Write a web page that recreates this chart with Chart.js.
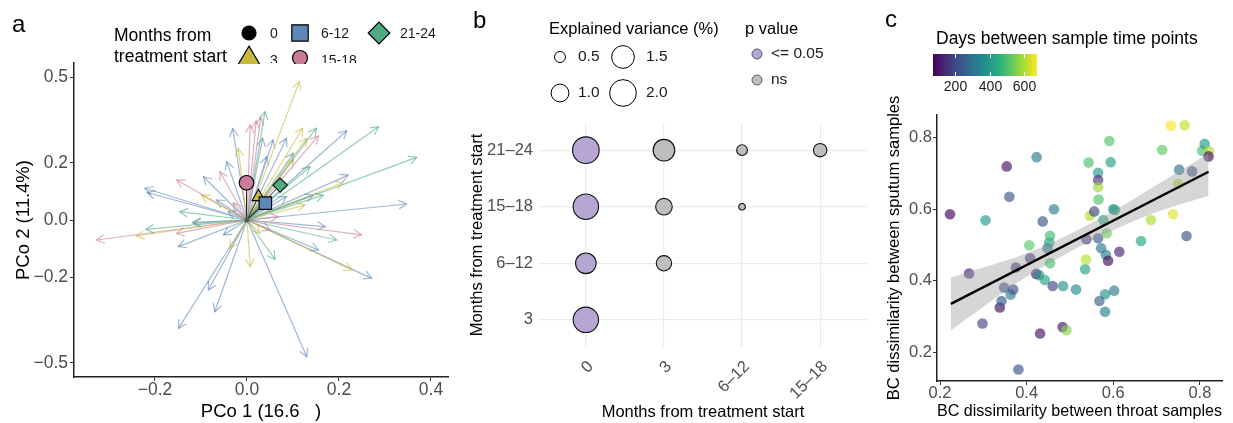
<html>
<head>
<script src="https://cdn.jsdelivr.net/npm/chart.js"></script>
<style>
  body { margin: 0; background: #fff; }
  .layer { position: absolute; left: 0; top: 0; }
</style>
</head>
<body>
<canvas id="pcoa" class="layer" width="1233" height="423"></canvas>
<canvas id="variance" class="layer" width="1233" height="423"></canvas>
<canvas id="dissim" class="layer" width="1233" height="423"></canvas>
<script>
// ---------- panel a : PCoA arrows ----------
const timeGroups = ['0', '3', '6-12', '15-18', '21-24'];
const centroidX = [0, 0.025, 0.040, -0.001, 0.072];
const centroidY = [0, 0.081, 0.059, 0.130, 0.122];

const arrowGroup = [
  '6-12','6-12','6-12','6-12','6-12','6-12','6-12','6-12','6-12','6-12','6-12','6-12','6-12','6-12',
  '6-12','6-12','6-12','6-12','6-12','6-12','6-12','6-12','6-12','6-12','6-12','6-12','6-12',
  '15-18','15-18','15-18','15-18','15-18','15-18','15-18','15-18','15-18','15-18','15-18','15-18',
  '3','3','3','3','3','3','3','3','3','3','3','3','3',
  '21-24','21-24','21-24','21-24','21-24','21-24','21-24','21-24','21-24','21-24','21-24'
];
const arrowX = [
  -0.031, 0.034, 0.086, 0.217, 0.347, 0.220, -0.222, -0.217, -0.095, -0.044, -0.149, 0.170, 0.155, 0.271,
  -0.149, -0.070, -0.084, 0.130, -0.051, 0.057, 0.043, 0.101, 0.086, 0.144, -0.066, -0.118, -0.041,
  -0.327, -0.153, -0.059, 0.007, 0.020, 0.030, 0.155, 0.249, -0.153, 0.068, 0.050, -0.030,
  0.114, 0.121, 0.130, -0.019, -0.099, 0.126, -0.241, 0.007, 0.228, 0.209, -0.037, 0.101, 0.028,
  0.039, 0.151, 0.286, 0.369, 0.137, 0.166, -0.146, -0.220, 0.195, 0.061, -0.117
];
const arrowY = [
  0.320, 0.286, 0.286, 0.312, 0.056, 0.157, 0.111, 0.096, 0.152, 0.204, -0.093, -0.023, -0.105, -0.204,
  -0.379, -0.321, -0.245, -0.478, -0.052, 0.280, 0.221, 0.233, 0.082, 0.087, 0.070, -0.008, 0.029,
  -0.070, 0.140, 0.169, 0.332, 0.347, 0.359, 0.294, -0.052, -0.047, 0.012, -0.035, 0.060,
  0.484, 0.321, 0.286, 0.251, 0.087, 0.052, -0.056, -0.163, -0.175, 0.131, -0.099, 0.210, -0.047,
  0.379, 0.321, 0.326, 0.219, 0.186, 0.087, 0.029, -0.033, -0.070, -0.138, -0.012
];
const pcoXTicks = [-0.2, 0, 0.2, 0.4];
const pcoYTicks = [-0.5, -0.2, 0, 0.2, 0.5];

// ---------- panel b : explained variance ----------
const refTimes = ['0', '3', '6\u201312', '15\u201318'];
const laterTimes = ['3', '6\u201312', '15\u201318', '21\u201324'];
const pairRef = ['0', '0', '0', '0', '3', '3', '3', '6\u201312', '6\u201312', '15\u201318'];
const pairLater = ['21\u201324', '15\u201318', '6\u201312', '3', '21\u201324', '15\u201318', '6\u201312', '21\u201324', '15\u201318', '21\u201324'];
const explainedVar = [1.99, 1.83, 1.27, 1.83, 1.38, 0.89, 0.79, 0.48, 0.30, 0.65];
const pSignif = [true, true, true, true, false, false, false, false, false, false];
const sizeBreaks = [0.5, 1.0, 1.5, 2.0];
const pLevels = ['<= 0.05', 'ns'];

// ---------- panel c : throat vs sputum dissimilarity ----------
const throatBC = [
  0.223, 0.267, 0.298, 0.305, 0.338, 0.342, 0.348, 0.354, 0.360, 0.363, 0.369, 0.381, 0.375, 0.408,
  0.406, 0.422, 0.423, 0.431, 0.429, 0.437, 0.442, 0.448, 0.452, 0.454, 0.454, 0.460, 0.463, 0.484,
  0.483, 0.492, 0.514, 0.535, 0.537, 0.538, 0.543, 0.546, 0.556, 0.565, 0.565, 0.565, 0.566, 0.565,
  0.572, 0.577, 0.585, 0.581, 0.581, 0.568, 0.583, 0.588, 0.591, 0.594, 0.600, 0.604, 0.602, 0.614,
  0.664, 0.687, 0.713, 0.733, 0.738, 0.750, 0.752, 0.765, 0.769, 0.782, 0.805, 0.811, 0.821, 0.820
];
const sputumBC = [
  0.586, 0.420, 0.280, 0.569, 0.325, 0.343, 0.381, 0.720, 0.635, 0.361, 0.375, 0.151, 0.437, 0.463,
  0.499, 0.419, 0.746, 0.252, 0.415, 0.566, 0.402, 0.491, 0.507, 0.526, 0.449, 0.385, 0.600, 0.385,
  0.270, 0.261, 0.375, 0.432, 0.459, 0.516, 0.731, 0.582, 0.594, 0.702, 0.682, 0.662, 0.627, 0.519,
  0.491, 0.570, 0.533, 0.313, 0.362, 0.343, 0.472, 0.456, 0.791, 0.732, 0.600, 0.598, 0.372, 0.481,
  0.511, 0.570, 0.766, 0.834, 0.586, 0.671, 0.711, 0.835, 0.525, 0.706, 0.764, 0.783, 0.764, 0.748
];
const daysBetween = [
  72, 130, 190, 400, 90, 250, 210, 100, 230, 320, 220, 220, 150, 170,
  520, 120, 320, 100, 380, 230, 430, 300, 420, 490, 500, 190, 320, 370,
  110, 560, 360, 420, 610, 150, 500, 610, 200, 400, 160, 590, 510, 240,
  310, 430, 540, 330, 380, 260, 320, 90, 510, 410, 340, 430, 320, 130,
  430, 600, 520, 675, 650, 600, 300, 620, 230, 220, 500, 400, 600, 90
];
const dayTicks = [200, 400, 600];
const fitX = [0.225, 0.82];
const fitY = [0.335, 0.705];
const bandX = [0.225, 0.3, 0.4, 0.5, 0.6, 0.7, 0.82];
const bandUpper = [0.409, 0.437, 0.477, 0.531, 0.595, 0.668, 0.757];
const bandLower = [0.261, 0.327, 0.411, 0.481, 0.541, 0.592, 0.638];
const bcTicks = [0.2, 0.4, 0.6, 0.8];

// ---------- shared helpers ----------
const FONT = '"Liberation Sans", Arial, Helvetica, sans-serif';
Chart.defaults.font.family = FONT;
Chart.defaults.color = '#4D4D4D';
Chart.defaults.animation = false;
Chart.defaults.events = [];
Chart.defaults.plugins.legend.display = false;
Chart.defaults.plugins.tooltip.enabled = false;

const groupStyle = {
  '0':     { color: '#555555', shape: 'circle',   r: 2.2 },
  '3':     { color: '#C9B93A', shape: 'triangle', r: 7.5 },
  '6-12':  { color: '#5E88B8', shape: 'rect',     r: 8.8 },
  '15-18': { color: '#C97C98', shape: 'circle',   r: 7.3 },
  '21-24': { color: '#4FAB82', shape: 'rectRot',  r: 7.2 }
};
const legendColor = { '0': '#000000' };

function fade(hex, a) {
  const n = parseInt(hex.slice(1), 16);
  return 'rgba(' + (n >> 16) + ',' + ((n >> 8) & 255) + ',' + (n & 255) + ',' + a + ')';
}

function text(ctx, str, x, y, size, opts) {
  opts = opts || {};
  ctx.save();
  ctx.font = size + 'px ' + FONT;
  ctx.fillStyle = opts.color || '#000';
  ctx.textAlign = opts.align || 'left';
  ctx.textBaseline = opts.baseline || 'middle';
  ctx.fillText(str, x, y);
  ctx.restore();
}

function shape(ctx, kind, x, y, s) {
  ctx.beginPath();
  if (kind === 'circle') {
    ctx.arc(x, y, s, 0, Math.PI * 2);
  } else if (kind === 'rect') {
    ctx.rect(x - s, y - s, 2 * s, 2 * s);
  } else if (kind === 'rectRot') {
    ctx.moveTo(x, y - s); ctx.lineTo(x + s, y); ctx.lineTo(x, y + s); ctx.lineTo(x - s, y); ctx.closePath();
  } else {
    ctx.moveTo(x, y - s * 0.95); ctx.lineTo(x + s, y + s * 0.75); ctx.lineTo(x - s, y + s * 0.75); ctx.closePath();
  }
  ctx.fill();
  ctx.stroke();
}

function signed(v) {
  return (v < -1e-9 ? '\u2212' : '') + Math.abs(v).toFixed(1);
}

function fixedTicks(values) {
  return function (scale) { scale.ticks = values.map(v => ({ value: v })); };
}

const VIRIDIS = ['#440154', '#472D7B', '#3B528B', '#2C728E', '#21908C', '#27AD81', '#5DC863', '#AADC32', '#FDE725'];
const dayMin = Math.min.apply(null, daysBetween);
const dayMax = Math.max.apply(null, daysBetween);
function viridis(t, a) {
  t = Math.max(0, Math.min(1, t));
  const p = t * (VIRIDIS.length - 1);
  const i = Math.min(Math.floor(p), VIRIDIS.length - 2);
  const f = p - i;
  const c0 = parseInt(VIRIDIS[i].slice(1), 16), c1 = parseInt(VIRIDIS[i + 1].slice(1), 16);
  const ch = s => Math.round(((c0 >> s) & 255) * (1 - f) + ((c1 >> s) & 255) * f);
  return 'rgba(' + ch(16) + ',' + ch(8) + ',' + ch(0) + ',' + a + ')';
}

// open arrow heads at the end of each segment of a dataset
const arrowHeads = {
  id: 'arrowHeads',
  afterDatasetDraw(chart, args) {
    const ds = chart.data.datasets[args.index];
    if (!ds.heads) return;
    const pts = args.meta.data;
    const ctx = chart.ctx;
    ctx.save();
    ctx.strokeStyle = ds.borderColor;
    ctx.lineWidth = ds.borderWidth;
    for (let k = 0; k + 1 < pts.length; k += 3) {
      const a = pts[k], b = pts[k + 1];
      const ang = Math.atan2(b.y - a.y, b.x - a.x);
      const L = ds.headLength;
      ctx.beginPath();
      ctx.moveTo(b.x - L * Math.cos(ang - 0.5), b.y - L * Math.sin(ang - 0.5));
      ctx.lineTo(b.x, b.y);
      ctx.lineTo(b.x - L * Math.cos(ang + 0.5), b.y - L * Math.sin(ang + 0.5));
      ctx.stroke();
    }
    ctx.restore();
  }
};

// ---------- panel a ----------
function arrowData(g) {
  const pts = [];
  arrowGroup.forEach((gg, i) => {
    if (gg !== g) return;
    pts.push({ x: 0, y: 0 }, { x: arrowX[i], y: arrowY[i] }, { x: arrowX[i], y: null });
  });
  return pts;
}

function centroidPaths() {
  const pts = [];
  timeGroups.forEach((g, i) => {
    if (i === 0) return;
    pts.push({ x: centroidX[0], y: centroidY[0] }, { x: centroidX[i], y: centroidY[i] }, { x: centroidX[i], y: null });
  });
  return pts;
}

const legendA = {
  id: 'legendA',
  afterDraw(chart) {
    const ctx = chart.ctx;
    text(ctx, 'a', 12, 32, 24, { baseline: 'alphabetic' });
    ctx.save();
    ctx.beginPath();
    ctx.rect(0, 0, 460, 64);
    ctx.clip();
    text(ctx, 'Months from', 114, 36, 17.5);
    text(ctx, 'treatment start', 114, 57, 17.5);
    const keyPos = { '0': [249, 33], '3': [249, 57], '6-12': [300, 33], '15-18': [300, 58], '21-24': [379, 33] };
    const keySize = { '0': 7, '3': 11.5, '6-12': 8.2, '15-18': 7.5, '21-24': 10.8 };
    timeGroups.forEach(g => {
      const p = keyPos[g];
      ctx.fillStyle = legendColor[g] || groupStyle[g].color;
      ctx.strokeStyle = '#000';
      ctx.lineWidth = 1.2;
      shape(ctx, groupStyle[g].shape, p[0], p[1], keySize[g]);
      // second-row labels sit lower and are cut by the panel edge, as in the original
      const ty = p[1] > 50 ? 61 : p[1] + 1;
      ctx.save();
      ctx.beginPath();
      ctx.rect(0, 0, 460, 63);
      ctx.clip();
      text(ctx, g, p[0] + 21, ty, 14, { color: '#1A1A1A' });
      ctx.restore();
    });
    ctx.restore();
  }
};

const arrowOrder = ['6-12', '15-18', '3', '21-24'];
const pcoaSets = arrowOrder.map((g, k) => ({
  type: 'line',
  data: arrowData(g),
  borderColor: fade(groupStyle[g].color, 0.6),
  borderWidth: 1.2,
  pointRadius: 0,
  spanGaps: false,
  heads: true,
  headLength: 9,
  order: 5 - k
}));
pcoaSets.push({
  type: 'line',
  data: centroidPaths(),
  borderColor: '#222',
  borderWidth: 1,
  pointRadius: 0,
  spanGaps: false,
  heads: true,
  headLength: 5,
  order: 1
});
pcoaSets.push({
  type: 'scatter',
  data: timeGroups.map((g, i) => ({ x: centroidX[i], y: centroidY[i] })),
  pointStyle: timeGroups.map(g => groupStyle[g].shape),
  pointRadius: timeGroups.map(g => groupStyle[g].r),
  backgroundColor: timeGroups.map(g => groupStyle[g].color),
  borderColor: timeGroups.map(g => (g === '0' ? '#666' : '#000')),
  borderWidth: 1.1,
  order: 0
});

new Chart(document.getElementById('pcoa'), {
  type: 'scatter',
  data: { datasets: pcoaSets },
  options: {
    responsive: false,
    layout: { padding: { left: 0, right: 785, top: 63, bottom: 0 } },
    scales: {
      x: {
        type: 'linear', min: -0.376, max: 0.437,
        afterBuildTicks: fixedTicks(pcoXTicks),
        afterFit: s => { s.height = 46; },
        ticks: { callback: v => signed(v), font: { size: 17.5, lineHeight: 1 }, padding: 0, color: '#4D4D4D' },
        grid: { drawOnChartArea: false, drawTicks: true, tickLength: 4, color: '#333' },
        border: { display: true, color: '#222', width: 1.5 },
        title: { display: true, text: 'PCo 1 (16.6   )', color: '#000', font: { size: 18.5 }, padding: { top: 0, bottom: 0 } }
      },
      y: {
        type: 'linear', min: -0.549, max: 0.549,
        afterBuildTicks: fixedTicks(pcoYTicks),
        afterFit: s => { s.width = 74; },
        ticks: { callback: v => signed(v), font: { size: 17.5 }, padding: 2, color: '#4D4D4D' },
        grid: { drawOnChartArea: false, drawTicks: true, tickLength: 4, color: '#333' },
        border: { display: true, color: '#222', width: 1.5 },
        title: { display: true, text: 'PCo 2 (11.4%)', color: '#000', font: { size: 18.5 }, padding: { top: 13, bottom: 0 } }
      }
    }
  },
  plugins: [arrowHeads, legendA]
});

// ---------- panel b ----------
const PURPLE = '#B6A6D2';
const GREY = '#BEBEBE';
function sizeRadius(v) {
  return Math.sqrt(Math.max(98.7 * v - 19, 1));
}

const legendB = {
  id: 'legendB',
  afterDraw(chart) {
    const ctx = chart.ctx;
    text(ctx, 'b', 473, 28, 24, { baseline: 'alphabetic' });
    text(ctx, 'Explained variance (%)', 549, 29, 16.5);
    sizeBreaks.forEach((v, i) => {
      const col = Math.floor(i / 2), row = i % 2;
      const cx = col === 0 ? 560 : 623;
      const cy = row === 0 ? 57 : 93;
      ctx.fillStyle = '#fff';
      ctx.strokeStyle = '#000';
      ctx.lineWidth = 1;
      shape(ctx, 'circle', cx, cy, sizeRadius(v));
      text(ctx, v.toFixed(1), col === 0 ? 578 : 646, cy, 15.5, { color: '#1A1A1A' });
    });
    text(ctx, 'p value', 745, 29, 16.5);
    pLevels.forEach((lv, i) => {
      const cy = i === 0 ? 54 : 80;
      ctx.fillStyle = i === 0 ? PURPLE : GREY;
      ctx.strokeStyle = '#3A3F55';
      ctx.lineWidth = 0.8;
      shape(ctx, 'circle', 757, cy, 5);
      text(ctx, lv, 771, cy, 15.5, { color: '#1A1A1A' });
    });
  }
};

new Chart(document.getElementById('variance'), {
  type: 'scatter',
  data: {
    datasets: [{
      data: pairRef.map((r, i) => ({
        x: refTimes.indexOf(r), y: laterTimes.indexOf(pairLater[i]), v: explainedVar[i], sig: pSignif[i]
      })),
      pointRadius: c => sizeRadius(c.raw.v),
      backgroundColor: c => (c.raw.sig ? PURPLE : GREY),
      borderColor: '#111',
      borderWidth: 1.1
    }]
  },
  options: {
    responsive: false,
    layout: { padding: { left: 452, right: 366, top: 123, bottom: 0 } },
    scales: {
      x: {
        type: 'linear', min: -0.6, max: 3.6,
        afterBuildTicks: fixedTicks([0, 1, 2, 3]),
        afterFit: s => { s.height = 76; },
        ticks: { callback: v => refTimes[v], autoSkip: false, minRotation: 45, maxRotation: 45, font: { size: 16.5 }, padding: 10, labelOffset: 5, color: '#4D4D4D' },
        grid: { color: '#EBEBEB', lineWidth: 1.2, drawTicks: false },
        border: { display: false },
        title: { display: true, text: 'Months from treatment start', color: '#000', font: { size: 16.5 }, padding: { top: 0, bottom: 1 } }
      },
      y: {
        type: 'linear', min: -0.48, max: 3.48,
        afterBuildTicks: fixedTicks([0, 1, 2, 3]),
        afterFit: s => { s.width = 87; },
        ticks: { callback: v => laterTimes[v], autoSkip: false, font: { size: 16.5 }, padding: 6, color: '#4D4D4D' },
        grid: { color: '#EBEBEB', lineWidth: 1.2, drawTicks: false },
        border: { display: false },
        title: { display: true, text: 'Months from treatment start', color: '#000', font: { size: 16.5 }, padding: { top: 16, bottom: 0 } }
      }
    }
  },
  plugins: [legendB]
});

// ---------- panel c ----------
const legendC = {
  id: 'legendC',
  afterDraw(chart) {
    const ctx = chart.ctx;
    text(ctx, 'c', 885, 27, 24, { baseline: 'alphabetic' });
    text(ctx, 'Days between sample time points', 936, 39, 17.5);
    const x0 = 933, x1 = 1037, y0 = 54, y1 = 76;
    const grad = ctx.createLinearGradient(x0, 0, x1, 0);
    VIRIDIS.forEach((c, i) => grad.addColorStop(i / (VIRIDIS.length - 1), c));
    ctx.save();
    ctx.fillStyle = grad;
    ctx.fillRect(x0, y0, x1 - x0, y1 - y0);
    ctx.strokeStyle = '#fff';
    ctx.lineWidth = 1;
    dayTicks.forEach(d => {
      const tx = Math.round(x0 + (d - dayMin) / (dayMax - dayMin) * (x1 - x0)) + 0.5;
      ctx.beginPath();
      ctx.moveTo(tx, y0); ctx.lineTo(tx, y0 + 4);
      ctx.moveTo(tx, y1 - 4); ctx.lineTo(tx, y1);
      ctx.stroke();
      text(ctx, String(d), tx, 87, 14, { align: 'center', color: '#1A1A1A' });
    });
    ctx.restore();
  }
};

new Chart(document.getElementById('dissim'), {
  type: 'scatter',
  data: {
    datasets: [
      {
        type: 'line',
        data: fitX.map((x, i) => ({ x: x, y: fitY[i] })),
        borderColor: '#000',
        borderWidth: 2.4,
        pointRadius: 0,
        order: 0
      },
      {
        type: 'line',
        data: bandX.map((x, i) => ({ x: x, y: bandUpper[i] })),
        borderWidth: 0,
        borderColor: 'rgba(0,0,0,0)',
        pointRadius: 0,
        cubicInterpolationMode: 'monotone',
        fill: '+1',
        backgroundColor: 'rgba(153,153,153,0.4)',
        order: 1
      },
      {
        type: 'line',
        data: bandX.map((x, i) => ({ x: x, y: bandLower[i] })),
        borderWidth: 0,
        borderColor: 'rgba(0,0,0,0)',
        pointRadius: 0,
        cubicInterpolationMode: 'monotone',
        fill: false,
        order: 2
      },
      {
        data: throatBC.map((x, i) => ({ x: x, y: sputumBC[i] })),
        pointRadius: 5.3,
        borderWidth: 0,
        backgroundColor: daysBetween.map(d => viridis((d - dayMin) / (dayMax - dayMin), 0.65)),
        order: 3
      }
    ]
  },
  options: {
    responsive: false,
    layout: { padding: { left: 875, right: 11, top: 115, bottom: 0 } },
    scales: {
      x: {
        type: 'linear', min: 0.193, max: 0.851,
        afterBuildTicks: fixedTicks(bcTicks),
        afterFit: s => { s.height = 42; },
        ticks: { callback: v => v.toFixed(1), font: { size: 16.5, lineHeight: 1 }, padding: 0, color: '#4D4D4D' },
        grid: { drawOnChartArea: false, drawTicks: true, tickLength: 4, color: '#333' },
        border: { display: true, color: '#222', width: 1.5 },
        title: { display: true, text: 'BC dissimilarity between throat samples', color: '#000', font: { size: 16.5 }, padding: { top: 0, bottom: 2 } }
      },
      y: {
        type: 'linear', min: 0.119, max: 0.864,
        afterBuildTicks: fixedTicks(bcTicks),
        afterFit: s => { s.width = 62; },
        ticks: { callback: v => v.toFixed(1), font: { size: 16.5 }, padding: 1, color: '#4D4D4D' },
        grid: { drawOnChartArea: false, drawTicks: true, tickLength: 4, color: '#333' },
        border: { display: true, color: '#222', width: 1.5 },
        title: { display: true, text: 'BC dissimilarity between sputum samples', color: '#000', font: { size: 16.5 }, padding: { top: 10, bottom: 0 } }
      }
    }
  },
  plugins: [legendC]
});
</script>
</body>
</html>
